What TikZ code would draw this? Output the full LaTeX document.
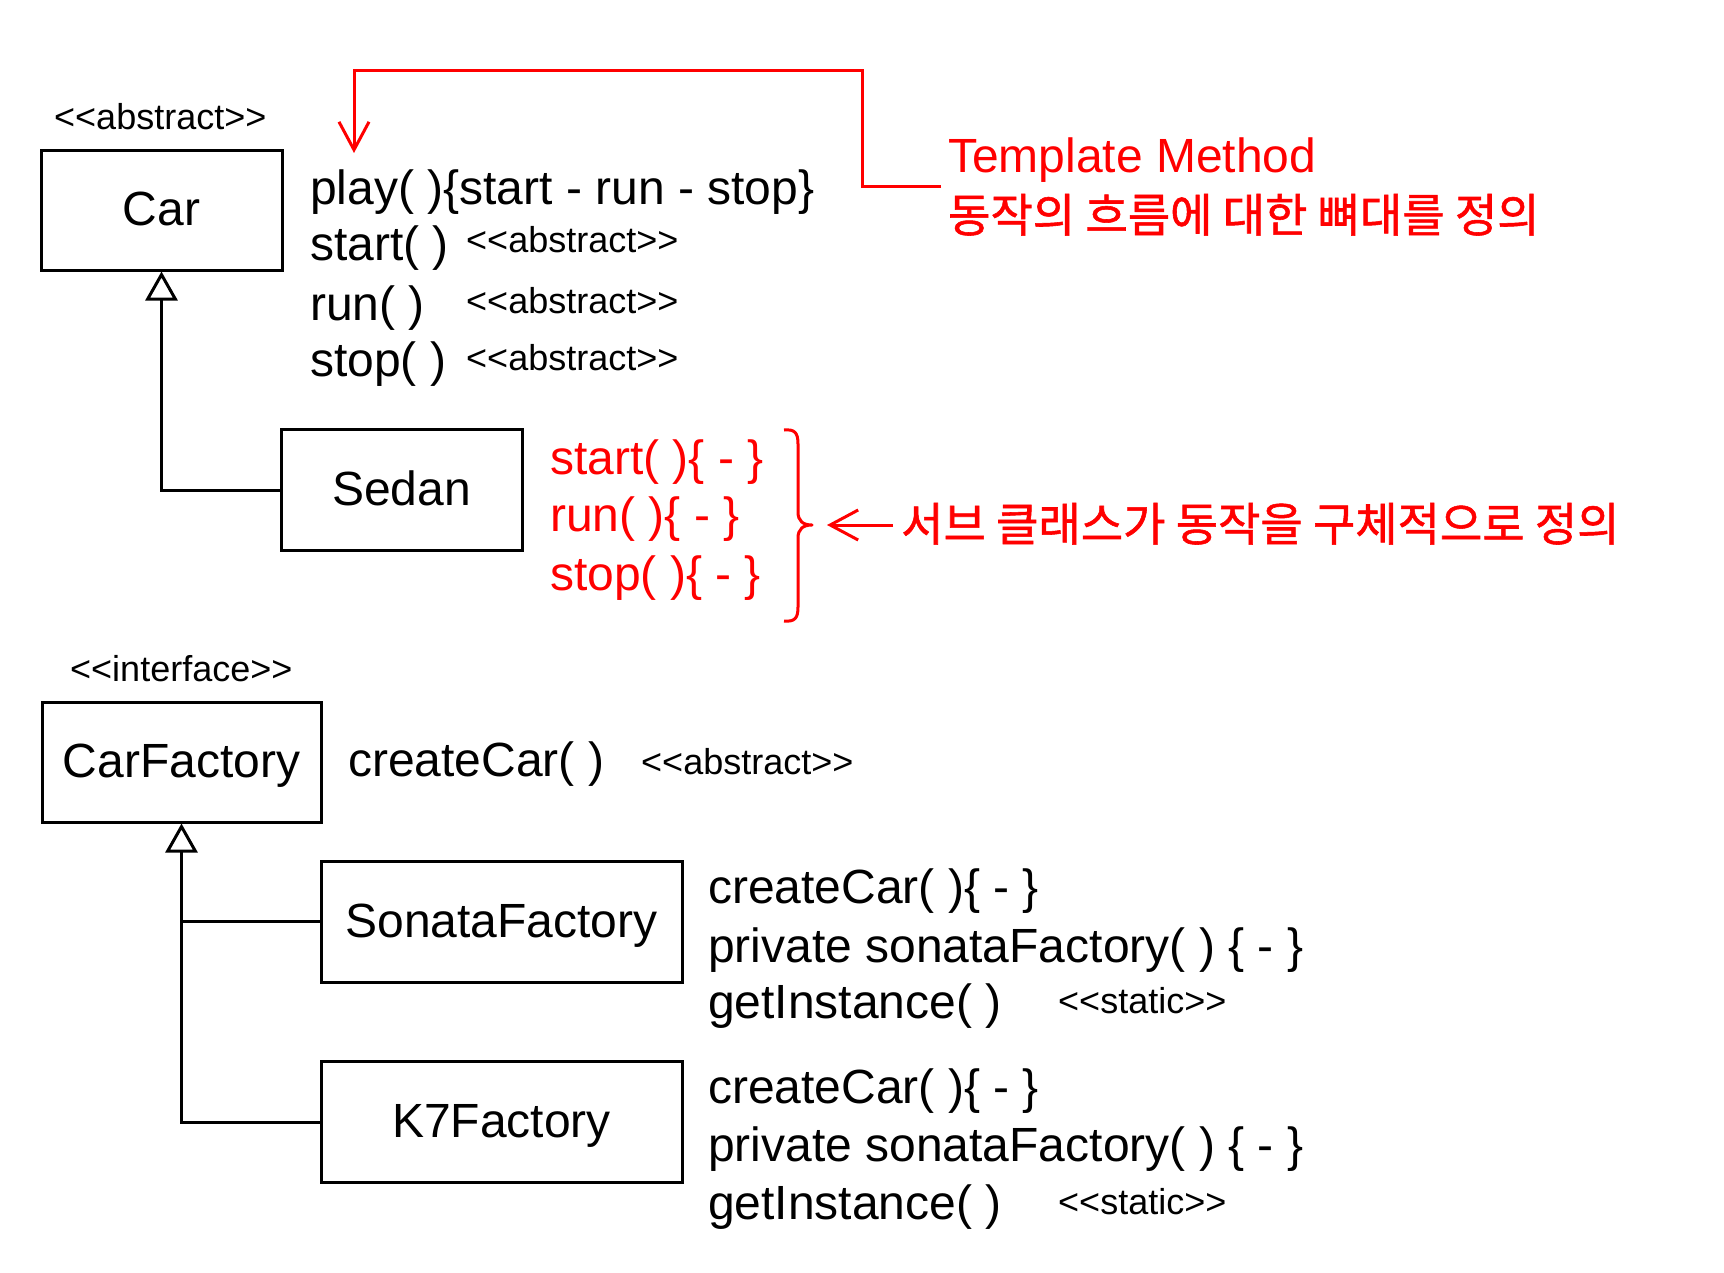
\documentclass[tikz,border=0pt]{standalone}
\usepackage{fontspec}
\setmainfont{Liberation Sans}[Ligatures=TeXOff]
\newfontfamily\krfont{Noto Sans CJK KR}[FakeBold=1.2]
\usetikzlibrary{arrows.meta}
\tikzset{
  box/.style={draw, line width=3pt, inner sep=0pt, font=\fontsize{48}{58}\selectfont, text height=31pt, text depth=0pt},
  txt/.style={anchor=base west, inner sep=0pt, font=\fontsize{48}{58}\selectfont},
  stereo/.style={anchor=base west, inner sep=0pt, font=\fontsize{36}{44}\selectfont},
  redtxt/.style={txt, text=red},
  krtxt/.style={anchor=base west, inner sep=0pt, text=red, font=\krfont\fontsize{46}{56}\selectfont},
  inherit/.style={line width=3pt, -{Triangle[open, length=29pt, width=32pt]}},
  redarrow/.style={draw=red, line width=3pt, -{Straight Barb[length=28pt, width=30pt]}},
  redline/.style={draw=red, line width=3pt}
}
\begin{document}
\begin{tikzpicture}[x=1pt, y=-1pt]
\useasboundingbox (0,0) rectangle (1724,1272);
% ---- Template part ----
\node[stereo] (absCar) at (54,129) {<<abstract>>};
\node[box, minimum width=241pt, minimum height=120pt] (car) at (161.5,210) {Car};
\node[txt] (play) at (310,204) {play( )\{start - run - stop\}};
\node[txt] (start) at (310,260) {start( )};
\node[stereo] (absStart) at (466,252.5) {<<abstract>>};
\node[txt] (run) at (310,320) {run( )};
\node[stereo] (absRun) at (466,313.5) {<<abstract>>};
\node[txt] (stop) at (310,376) {stop( )};
\node[stereo] (absStop) at (466,370) {<<abstract>>};

\node[box, minimum width=241pt, minimum height=121pt] (sedan) at (401.5,490) {Sedan};
\node[redtxt] (rstart) at (550,474) {start( )\{ - \}};
\node[redtxt] (rrun) at (550,531) {run( )\{ - \}};
\node[redtxt] (rstop) at (550,590) {stop( )\{ - \}};

\node[redtxt] (tm) at (948,172) {Template Method};
\node[krtxt] (kr1) at (948,232) {동작의 흐름에 대한 뼈대를 정의};
\node[krtxt] (kr2) at (901,541) {서브 클래스가 동작을 구체적으로 정의};

\coordinate (tmjoin) at (941,186);
\coordinate (tmcorner) at (862,70);
\coordinate (playtop) at (354,153);
\draw[redarrow] (tmjoin) -| (tmcorner) -| (playtop);

% brace
\draw[redline, line join=round] (784,430) .. controls (795,429) and (798,433) .. (798,444)
  -- (798,512) .. controls (798,521) and (803,525) .. (812,525)
  .. controls (803,525) and (798,529) .. (798,538)
  -- (798,607) .. controls (798,618) and (795,622) .. (784,621);
\coordinate (bracetip) at (827,525);
\coordinate (kr2start) at (893,525);
\draw[redarrow] (kr2start) -- (bracetip);

\draw[inherit] (sedan.west) -| (car.south);

% ---- Factory part ----
\node[stereo] (absCF) at (70,681.5) {<<interface>>};
\node[box, minimum width=279pt, minimum height=120pt] (cf) at (181.5,762) {CarFactory};
\node[txt] (cc) at (348,776) {createCar( )};
\node[stereo] (absCC) at (641,774) {<<abstract>>};

\node[box, minimum width=361pt, minimum height=121pt] (sonata) at (501.5,921.5) {SonataFactory};
\node[txt] (s1) at (708,903) {createCar( )\{ - \}};
\node[txt] (s2) at (708,962) {private sonataFactory( ) \{ - \}};
\node[txt] (s3) at (708,1018) {getInstance( )};
\node[stereo] (sst) at (1058,1013.5) {<<static>>};

\node[box, minimum width=361pt, minimum height=121pt] (k7) at (501.5,1122) {K7Factory};
\node[txt] (k1) at (708,1103) {createCar( )\{ - \}};
\node[txt] (k2) at (708,1161) {private sonataFactory( ) \{ - \}};
\node[txt] (k3) at (708,1219) {getInstance( )};
\node[stereo] (kst) at (1058,1214) {<<static>>};

\draw[inherit] (k7.west) -| (cf.south);
\draw[line width=3pt] (sonata.west) -- (sonata.west -| cf.south);
\end{tikzpicture}
\end{document}
